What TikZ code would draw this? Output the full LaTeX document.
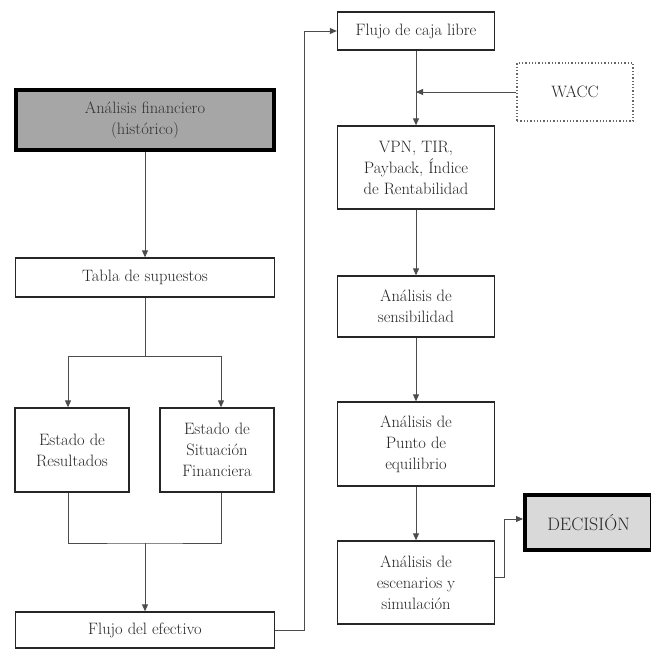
\documentclass[tikz,border=0pt]{standalone}
\usetikzlibrary{arrows.meta}
\begin{document}
\begin{tikzpicture}[x=1pt,y=-1pt,
  box/.style={draw=black!85, line width=1.3pt, fill=white, align=center, inner sep=0pt,
    text=black!85, font=\fontsize{16.5}{21}\selectfont},
  thickbox/.style={box, line width=4pt, draw=black},
  conn/.style={draw=black!70, line width=0.9pt},
  arr/.style={conn, -{Triangle[length=7pt,width=6pt]}}]
\useasboundingbox (0,0) rectangle (651,650);
% left column
\node[thickbox, fill=black!35, text=black!80, minimum width=258pt, minimum height=60pt] (hist) at (145,120) {Análisis financiero\\(histórico)};
\node[box, minimum width=259pt, minimum height=39pt] (tabla) at (145,277.5) {Tabla de supuestos};
\node[box, minimum width=114pt, minimum height=84pt] (estRes) at (72,450) {Estado de\\Resultados};
\node[box, minimum width=114pt, minimum height=84pt] (estSit) at (217,450) {Estado de\\Situación\\Financiera};
\node[box, minimum width=259pt, minimum height=36pt] (flujoEf) at (145,630) {Flujo del efectivo};
% right column
\node[box, minimum width=157pt, minimum height=38pt] (fcl) at (416,31) {Flujo de caja libre};
\node[box, draw=black!60, dotted, line width=1.4pt, minimum width=116pt, minimum height=58pt] (wacc) at (575,92) {WACC};
\node[box, minimum width=157pt, minimum height=83pt] (vpn) at (416,167.5) {VPN, TIR,\\Payback, Índice\\de Rentabilidad};
\node[box, minimum width=157pt, minimum height=61pt] (sens) at (416,306.5) {Análisis de\\sensibilidad};
\node[box, minimum width=157pt, minimum height=84pt] (punto) at (416,444) {Análisis de\\Punto de\\equilibrio};
\node[box, minimum width=157pt, minimum height=83pt] (esc) at (416,582.5) {Análisis de\\escenarios y\\simulación};
\node[thickbox, fill=black!15, text=black!85, font=\fontsize{18}{22}\selectfont, minimum width=127pt, minimum height=55pt] (dec) at (588.5,522.5) {DECISIÓN};
% connectors
\draw[arr] (hist) -- (tabla);
\coordinate (split) at (145,356);
\draw[conn] (tabla.south) -- (split);
\draw[arr] (split) -| ([xshift=-4pt]estRes.north);
\draw[arr] (split) -| ([xshift=4pt]estSit.north);
\coordinate (merge) at (145,543);
\draw[conn] ([xshift=-4pt]estRes.south) |- (merge) -| ([xshift=4pt]estSit.south);
\draw[arr] (merge) -- (flujoEf);
\coordinate (loopT) at (304,31);
\draw[arr] (flujoEf.east) -| (loopT) -- (fcl.west);
\draw[arr] (fcl) -- (vpn);
\coordinate (join) at (416,92);
\draw[arr] (wacc.west) -- (join);
\draw[arr] (vpn) -- (sens);
\draw[arr] (sens) -- (punto);
\draw[arr] (punto) -- (esc);
\coordinate (decB) at (504,519);
\draw[arr] ([yshift=5pt]esc.east) -| (decB) -- (dec.west |- decB);
\end{tikzpicture}
\end{document}
